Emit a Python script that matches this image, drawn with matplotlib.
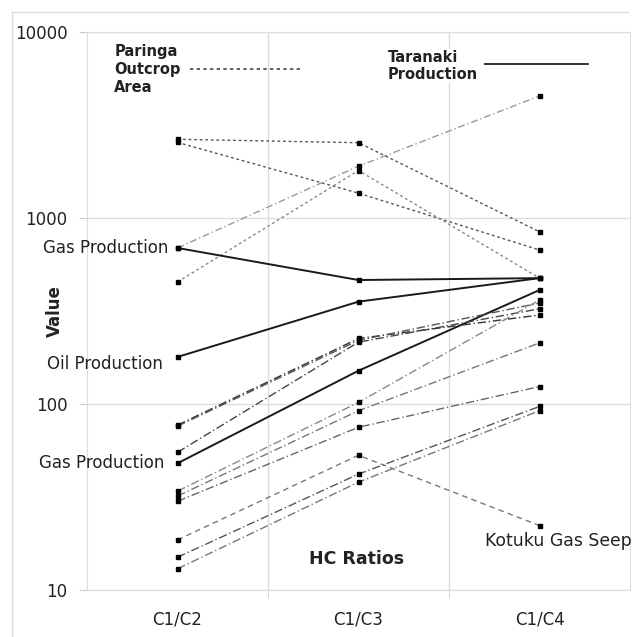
import numpy as np
import matplotlib.pyplot as plt
from matplotlib.lines import Line2D

plt.rcParams['font.family'] = ['DejaVu Sans']

ratios = ['C1/C2', 'C1/C3', 'C1/C4']

# Paringa outcrop area (dotted)
paringa_a = [2650, 2540, 843]
paringa_b = [2550, 1360, 673]
paringa_c = [453, 1800, 475]
paringa_d = [690, 1900, 4530]

# Taranaki production (solid)
gas_prod_hi = [690, 464, 475]
oil_prod = [179, 355, 475]
gas_prod_lo = [48, 151, 410]

# other samples (dash-dot)
sample_1 = [77, 225, 301]
sample_2 = [76, 220, 349]
sample_3 = [55, 215, 325]
sample_4 = [34, 102, 362]
sample_5 = [32, 92, 213]
sample_6 = [30, 75, 124]
sample_7 = [15, 42, 97]
sample_8 = [13, 38, 92]
kotuku_seep = [18.6, 53, 22.2]

xx = np.arange(1, 4)

fig = plt.figure(figsize=(6.39, 6.37), dpi=100)
ax = fig.add_axes([87/639, 1-590/637, (630-87)/639, (590-32)/637])

def draw(vals, ls, color, lw=1.0):
    ax.plot(xx, vals, linestyle=ls, color=color, lw=lw,
            marker='s', ms=3.5, mfc='black', mec='black', zorder=3)

for v in [paringa_a, paringa_b]:
    draw(v, (0, (2, 2)), '#555555')
draw(paringa_c, (0, (2, 2)), '#888888')
draw(paringa_d, (0, (5, 2, 1, 2)), '#999999')

for v in [gas_prod_hi, oil_prod, gas_prod_lo]:
    draw(v, '-', '#1a1a1a', 1.4)

greys = ['#333333', '#555555', '#444444', '#888888', '#777777', '#666666', '#555555', '#777777']
for v, c in zip([sample_1, sample_2, sample_3, sample_4, sample_5, sample_6, sample_7, sample_8], greys):
    draw(v, (0, (6, 2, 1, 2)), c)
draw(kotuku_seep, (0, (4, 3)), '#777777')

ax.set_yscale('log')
ax.set_ylim(10, 10000)
ax.set_xlim(0.5, 3.5)
ax.set_yticks([10, 100, 1000, 10000])
ax.set_yticklabels(['10', '100', '1000', '10000'])
ax.minorticks_off()
ax.set_xticks(xx)
ax.set_xticklabels(ratios)
ax.set_xticks([1.5, 2.5], minor=True)
ax.tick_params(axis='x', which='major', length=0, pad=15, labelsize=12, colors='#222222')
ax.tick_params(axis='x', which='minor', length=6, color='#cccccc')
ax.tick_params(axis='y', length=6, color='#cccccc', pad=8, labelsize=12, labelcolor='#222222')
ax.grid(True, axis='y', color='#dddddd', lw=1)
ax.grid(True, axis='x', which='minor', color='#dddddd', lw=1)
for s in ax.spines.values():
    s.set_color('#dddddd')

ax.set_ylabel('Value', fontsize=12, fontweight='bold', color='#222222')
ax.yaxis.set_label_coords(-0.042, 0.5)

# labels on the chart
ax.text(0.95, 690, 'Gas Production', ha='right', va='center', fontsize=12, color='#222222')
ax.text(0.92, 165, 'Oil Production', ha='right', va='center', fontsize=12, color='#222222')
ax.text(0.93, 48, 'Gas Production', ha='right', va='center', fontsize=12, color='#222222')
ax.text(2.7, 18.3, 'Kotuku Gas Seep', ha='left', va='center', fontsize=12.4, color='#222222')
ax.text(1.99, 14.7, 'HC Ratios', ha='center', va='center', fontsize=12.5, fontweight='bold', color='#222222')

ax.text(0.65, 6300, 'Paringa\nOutcrop\nArea', ha='left', va='center', fontsize=10.5,
        fontweight='bold', linespacing=1.25, color='#222222',
        bbox=dict(fc='white', ec='none', pad=1), zorder=4)
ax.text(2.16, 6560, 'Taranaki\nProduction', ha='left', va='center', fontsize=10.5,
        fontweight='bold', linespacing=1.1, color='#222222',
        bbox=dict(fc='white', ec='none', pad=1), zorder=4)
ax.add_line(Line2D([1.07, 1.69], [6300, 6300], ls=(0, (2, 2)), color='#444444', lw=1.2))
ax.add_line(Line2D([2.70, 3.27], [6730, 6730], ls='-', color='#222222', lw=1.3))

# outer chart border
fig.add_artist(Line2D([12/639, 12/639], [0, 1-12/637], color='#dddddd', lw=1))
fig.add_artist(Line2D([12/639, 628/639], [1-12/637, 1-12/637], color='#dddddd', lw=1))

fig.savefig('out.png', dpi=100)
